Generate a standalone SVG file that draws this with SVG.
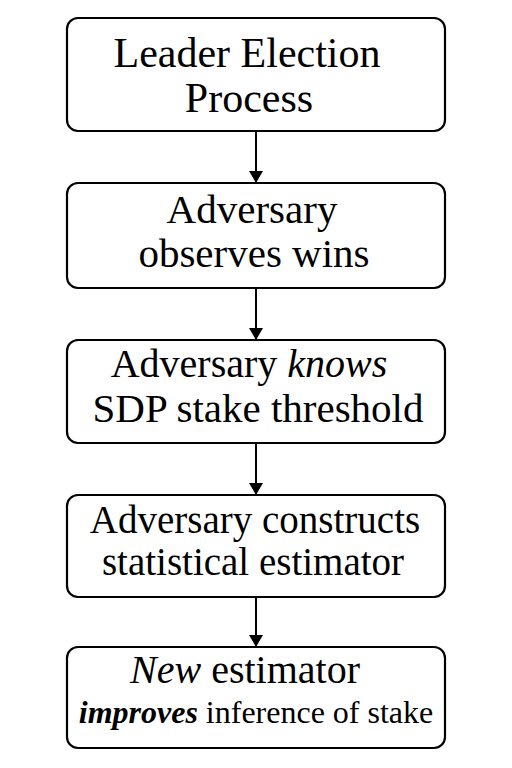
<svg xmlns="http://www.w3.org/2000/svg" width="512" height="768" viewBox="0 0 512 768">
<style>
.box{fill:#fff;stroke:#000;stroke-width:2.2}
.c{stroke:#000;stroke-width:2;fill:none}
</style>
<defs>
<marker id="ah" markerWidth="12" markerHeight="14" refX="12" refY="7" orient="auto" markerUnits="userSpaceOnUse">
<path d="M0,0 L12,7 L0,14 Z" fill="#000"/>
</marker>
</defs>
<rect width="512" height="768" fill="#fff"/>
<g id="connectors">
<line class="c" x1="256" y1="131" x2="256" y2="183" marker-end="url(#ah)"/>
<line class="c" x1="256" y1="288" x2="256" y2="340" marker-end="url(#ah)"/>
<line class="c" x1="256" y1="443" x2="256" y2="495" marker-end="url(#ah)"/>
<line class="c" x1="256" y1="597" x2="256" y2="647" marker-end="url(#ah)"/>
</g>
<g id="n1">
<rect class="box" x="67" y="18" width="378" height="113" rx="11"/>
<text font-family="Liberation Serif" text-anchor="middle" x="247" y="67" font-size="42">Leader Election</text>
<text font-family="Liberation Serif" text-anchor="middle" x="249" y="112" font-size="42">Process</text>
</g>
<g id="n2">
<rect class="box" x="67" y="183" width="378" height="105" rx="11"/>
<text font-family="Liberation Serif" text-anchor="middle" x="252" y="223" font-size="41">Adversary</text>
<text font-family="Liberation Serif" text-anchor="middle" x="254" y="267" font-size="41">observes wins</text>
</g>
<g id="n3">
<rect class="box" x="67" y="340" width="378" height="103" rx="11"/>
<text font-family="Liberation Serif" text-anchor="middle" x="249" y="377" font-size="40">Adversary <tspan font-style="italic">knows</tspan></text>
<text font-family="Liberation Serif" text-anchor="middle" x="258" y="422" font-size="41">SDP stake threshold</text>
</g>
<g id="n4">
<rect class="box" x="67" y="495" width="378" height="102" rx="11"/>
<text font-family="Liberation Serif" text-anchor="middle" x="255" y="533" font-size="39">Adversary constructs</text>
<text font-family="Liberation Serif" text-anchor="middle" x="253" y="575" font-size="39">statistical estimator</text>
</g>
<g id="n5">
<rect class="box" x="67" y="647" width="378" height="101" rx="11"/>
<text font-family="Liberation Serif" text-anchor="middle" x="245" y="683" font-size="40"><tspan font-style="italic">New</tspan> estimator</text>
<text font-family="Liberation Serif" text-anchor="middle" x="256" y="723" font-size="32"><tspan font-style="italic" font-weight="bold">improves</tspan> inference of stake</text>
</g>
</svg>
